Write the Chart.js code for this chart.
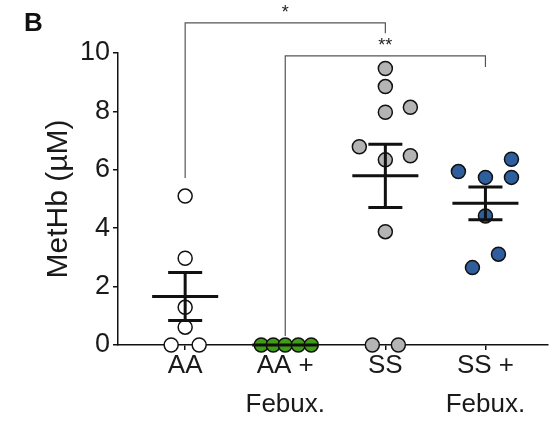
<!DOCTYPE html>
<html>
<head>
<meta charset="utf-8">
<script src="https://cdn.jsdelivr.net/npm/chart.js@4"></script>
<style>
  html, body { margin: 0; padding: 0; background: #fff; }
  #wrap { width: 556px; height: 423px; position: relative; }
</style>
</head>
<body>
<div id="wrap"><canvas id="methbChart"></canvas></div>
<script>
// MetHb per group, with horizontal scatter offsets (in category units)
const groups = [["AA"], ["AA +", "Febux."], ["SS"], ["SS +", "Febux."]];
const aaValues = [5.10, 2.97, 1.29, 0.61, 0, 0];
const aaJitter = [0, 0, 0, 0, -0.14, 0.14];
const aaFebuxValues = [0, 0, 0, 0, 0];
const aaFebuxJitter = [-0.24, -0.12, 0, 0.13, 0.26];
const ssValues = [9.47, 8.85, 7.97, 8.14, 6.79, 6.48, 6.34, 3.88, 0, 0];
const ssJitter = [0, 0, 0, 0.25, -0.26, 0.25, 0, 0, -0.13, 0.13];
const ssFebuxValues = [6.36, 5.94, 5.74, 5.74, 4.42, 3.11, 2.65];
const ssFebuxJitter = [0.26, -0.27, 0, 0.26, 0, 0.13, -0.13];
const yTicks = [0, 2, 4, 6, 8, 10];

// significance brackets: [from, to, label, bar level, left leg end, right leg end]
const comparisons = [
  [0, 2, "*", 11.03, 5.72, 10.68],
  [1, 3, "**", 9.9, 0.31, 9.52]
];

const FONT = "'Liberation Sans', Arial, sans-serif";
const fills = ["#ffffff", "#3f9e16", "#b4b4b4", "#2e5e9c"];
const allValues = [aaValues, aaFebuxValues, ssValues, ssFebuxValues];
const allJitter = [aaJitter, aaFebuxJitter, ssJitter, ssFebuxJitter];

function meanSem(v) {
  const n = v.length;
  const m = v.reduce((a, b) => a + b, 0) / n;
  const sd = Math.sqrt(v.reduce((a, b) => a + (b - m) ** 2, 0) / (n - 1));
  return { mean: m, sem: sd / Math.sqrt(n) };
}

const datasets = allValues.map((vals, i) => ({
  label: groups[i].join(" "),
  data: vals.map((v, k) => ({ x: i + allJitter[i][k], y: v })),
  backgroundColor: fills[i],
  borderColor: "#111",
  borderWidth: 1.5,
  pointRadius: 7,
  clip: false
}));

// mean +/- SEM bars, brackets and panel letter
const overlay = {
  id: "overlay",
  afterDatasetsDraw(chart) {
    const { ctx, scales: { x, y } } = chart;
    ctx.save();
    ctx.strokeStyle = "#111";
    ctx.lineWidth = 3;
    ctx.lineCap = "butt";
    allValues.forEach((vals, i) => {
      const s = meanSem(vals);
      const cx = x.getPixelForValue(i);
      const half = x.getPixelForValue(i + 0.33) - cx;
      const cap = x.getPixelForValue(i + 0.17) - cx;
      const yM = y.getPixelForValue(s.mean);
      const yHi = y.getPixelForValue(s.mean + s.sem);
      const yLo = y.getPixelForValue(s.mean - s.sem);
      ctx.beginPath();
      ctx.moveTo(cx - half, yM); ctx.lineTo(cx + half, yM);
      if (s.sem > 0) {
        ctx.moveTo(cx, yHi); ctx.lineTo(cx, yLo);
        ctx.moveTo(cx - cap, yHi); ctx.lineTo(cx + cap, yHi);
        ctx.moveTo(cx - cap, yLo); ctx.lineTo(cx + cap, yLo);
      }
      ctx.stroke();
    });

    ctx.strokeStyle = "#555";
    ctx.lineWidth = 1.2;
    ctx.fillStyle = "#222";
    ctx.font = "18px " + FONT;
    ctx.textAlign = "center";
    ctx.textBaseline = "middle";
    comparisons.forEach(([a, b, lbl, lvl, endA, endB]) => {
      const xa = x.getPixelForValue(a), xb = x.getPixelForValue(b);
      const yl = y.getPixelForValue(lvl);
      ctx.beginPath();
      ctx.moveTo(xa, y.getPixelForValue(endA));
      ctx.lineTo(xa, yl);
      ctx.lineTo(xb, yl);
      ctx.lineTo(xb, y.getPixelForValue(endB));
      ctx.stroke();
      ctx.fillText(lbl, (xa + xb) / 2, yl - 10);
    });

    ctx.fillStyle = "#111";
    ctx.font = "bold 26px " + FONT;
    ctx.textAlign = "left";
    ctx.textBaseline = "alphabetic";
    ctx.fillText("B", 24, 31);
    ctx.restore();
  }
};

new Chart(document.getElementById("methbChart"), {
  type: "scatter",
  data: { datasets },
  plugins: [overlay],
  options: {
    responsive: true,
    maintainAspectRatio: false,
    animation: false,
    devicePixelRatio: 1,
    layout: { padding: { top: 53, right: 3, bottom: 0, left: 0 } },
    plugins: { legend: { display: false }, tooltip: { enabled: false } },
    scales: {
      x: {
        type: "linear",
        min: -0.671,
        max: 3.62,
        afterBuildTicks: s => { s.ticks = groups.map((g, i) => ({ value: i })); },
        afterFit: s => { s.height = 78; },
        ticks: {
          callback: v => groups[v],
          color: "#1a1a1a",
          font: { family: FONT, size: 26, lineHeight: 1.5 },
          padding: -4,
          maxRotation: 0,
          autoSkip: false
        },
        grid: { display: true, drawOnChartArea: false, drawTicks: true, tickLength: 5, color: "#111", lineWidth: 1.5 },
        border: { display: true, color: "#111", width: 1.5 }
      },
      y: {
        min: 0,
        max: 10,
        afterBuildTicks: s => { s.ticks = yTicks.map(v => ({ value: v })); },
        afterFit: s => { s.width = 118; },
        ticks: {
          color: "#1a1a1a",
          font: { family: FONT, size: 27 },
          padding: 3
        },
        grid: { display: true, drawOnChartArea: false, drawTicks: true, tickLength: 5, color: "#111", lineWidth: 1.5 },
        border: { display: true, color: "#111", width: 1.5 },
        title: {
          display: true,
          text: "MetHb (µM)",
          color: "#1a1a1a",
          font: { family: FONT, size: 30 },
          padding: { top: 41, bottom: 0 }
        }
      }
    }
  }
});
</script>
</body>
</html>
